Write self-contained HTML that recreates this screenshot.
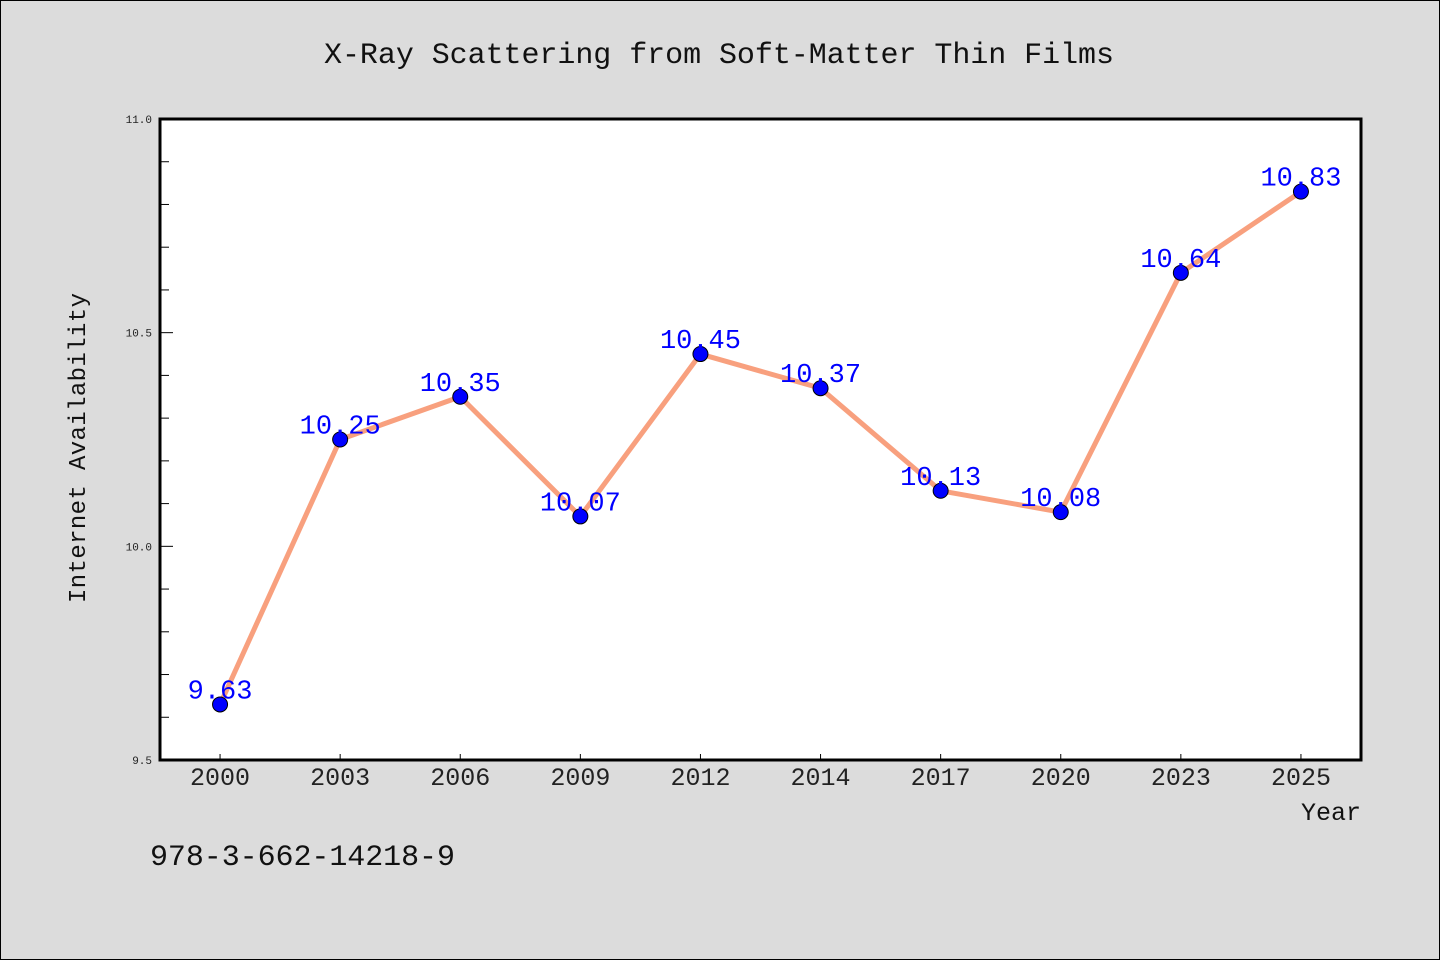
<!DOCTYPE html>
<html><head><meta charset="utf-8"><style>
html,body{margin:0;padding:0;background:#dcdcdc}
svg{display:block}
text{font-family:"Liberation Mono",monospace}
</style></head><body>
<svg id="chart" width="1440" height="960" xmlns="http://www.w3.org/2000/svg">
<rect x="0.5" y="0.5" width="1439" height="959" fill="#dcdcdc" stroke="#000"/>
<text x="719" y="63" font-size="30" text-anchor="middle" textLength="790" lengthAdjust="spacing" fill="#111">X-Ray Scattering from Soft-Matter Thin Films</text>
<rect x="160" y="119" width="1201" height="641" fill="#fff"/>
<g id="yaxis"></g>
<g id="xaxis"></g>
<g id="series"></g>
<rect x="160" y="119" width="1201" height="641" fill="none" stroke="#000" stroke-width="3"/>
<text x="85" y="448" font-size="24" text-anchor="middle" textLength="310" lengthAdjust="spacing" fill="#111" transform="rotate(-90 85 448)">Internet Availability</text>
<text x="1331" y="820" font-size="25" text-anchor="middle" fill="#111">Year</text>
<text x="150" y="865" font-size="30" textLength="305" fill="#111">978-3-662-14218-9</text>
</svg>
<script>
const categories=["2000","2003","2006","2009","2012","2014","2017","2020","2023","2025"];
const values=[9.63,10.25,10.35,10.07,10.45,10.37,10.13,10.08,10.64,10.83];
const yTicks=[9.5,10.0,10.5,11.0];
const yTickLabels=["9.5","10.0","10.5","11.0"];
const NS="http://www.w3.org/2000/svg";
const L=160,R=1361,T=119,B=760,yMin=9.5,yMax=11.0;
function ys(v){return B-(v-yMin)/(yMax-yMin)*(B-T);}
function xs(i){const bw=(R-L)/categories.length;return L+bw*(i+0.5);}
function mk(tag,attrs,parent){const e=document.createElementNS(NS,tag);for(const k in attrs)e.setAttribute(k,attrs[k]);parent.appendChild(e);return e;}
const ya=document.getElementById('yaxis'),xa=document.getElementById('xaxis'),sg=document.getElementById('series');
for(let v=yMin;v<=yMax+1e-9;v+=0.1){
  const major=Math.abs(v*2-Math.round(v*2))<1e-6;
  const t=mk('line',{x1:L,x2:L+(major?13:9),y1:ys(v),y2:ys(v),stroke:'#000','stroke-width':1},ya);
  
  
}
yTicks.forEach((v,i)=>{
  const t=mk('text',{x:L-8,y:ys(v)+4,'font-size':11,'text-anchor':'end',fill:'#222'},ya);
  t.textContent=yTickLabels[i];
  
  
});
categories.forEach((c,i)=>{
  const t=mk('line',{x1:xs(i),x2:xs(i),y1:B-6,y2:B,stroke:'#000','stroke-width':1},xa);
  
  
  const l=mk('text',{x:xs(i),y:785,'font-size':25,'text-anchor':'middle',fill:'#222'},xa);
  l.textContent=c;
  
  
});
const pl=mk('polyline',{points:values.map((v,i)=>xs(i)+','+ys(v)).join(' '),fill:'none',stroke:'#f8a07e','stroke-width':5,'stroke-linejoin':'round'},sg);


values.forEach((v,i)=>{
  const c=mk('circle',{cx:xs(i),cy:ys(v),r:7.5,fill:'#0000ff',stroke:'#000','stroke-width':1},sg);
  
  
  const t=mk('text',{x:xs(i),y:ys(v)-6,'font-size':27,'text-anchor':'middle',fill:'#0000ff'},sg);
  t.textContent=v.toFixed(2);
  
  
});
</script>
</body></html>
